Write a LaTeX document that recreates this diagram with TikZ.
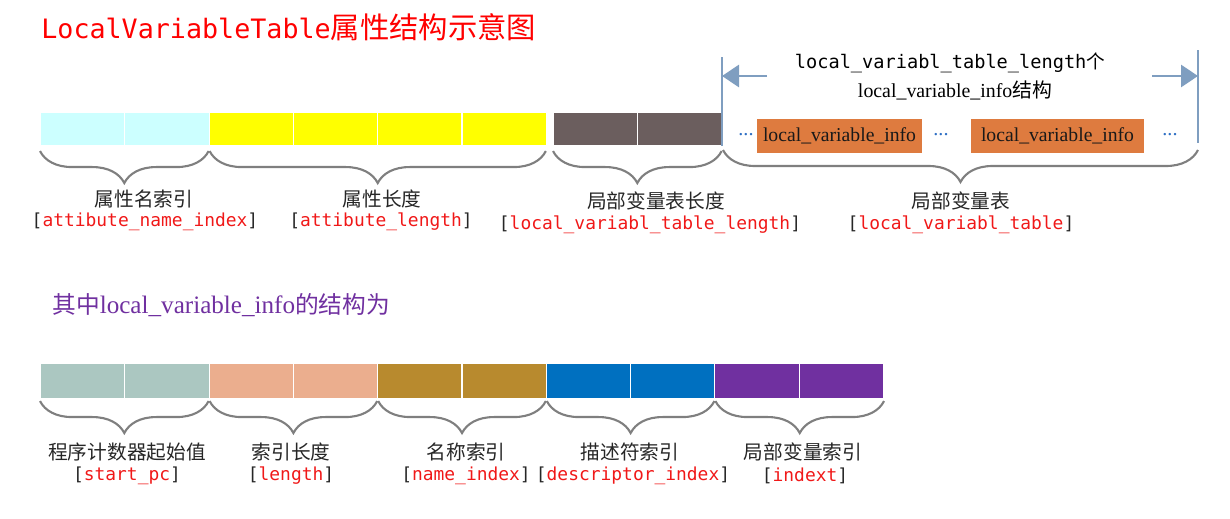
\documentclass[tikz,border=0pt]{standalone}
\usepackage{fontspec}
\setmainfont{Liberation Serif}
\setmonofont{DejaVu Sans Mono}
\newfontfamily\cjk{Noto Sans CJK SC}
\usepackage{xcolor}
\usepackage{tikz}
\usetikzlibrary{arrows.meta,decorations.pathreplacing,calc}
\definecolor{titlered}{HTML}{FF0000}
\definecolor{fieldred}{HTML}{F01818}
\definecolor{subpurple}{HTML}{7030A0}
\definecolor{namecyan}{HTML}{CCFFFF}
\definecolor{lenyellow}{HTML}{FFFF00}
\definecolor{tabgray}{HTML}{6B5E5E}
\definecolor{infoorange}{HTML}{DE7B3F}
\definecolor{pcteal}{HTML}{ABC7C1}
\definecolor{lensalmon}{HTML}{EBAE8E}
\definecolor{idxgold}{HTML}{B88A2E}
\definecolor{descblue}{HTML}{0070C0}
\definecolor{slotpurple}{HTML}{7030A0}
\definecolor{spanblue}{HTML}{7F9EC0}
\definecolor{dotblue}{HTML}{2E6FC4}
\definecolor{bracegray}{HTML}{7F7F7F}
\newcommand{\fieldname}[1]{[{\color{fieldred}#1}]}

\begin{document}
\begin{tikzpicture}[x=0.02cm, y=-0.02cm,
  cell/.style={draw=white, line width=0.6pt, minimum width=1.686cm,
    minimum height=0.66cm, inner sep=0pt, anchor=north west},
  lowcell/.style={cell, minimum height=0.70cm},
  brc/.style={decorate, decoration={brace, mirror, amplitude=0.64cm},
    draw=bracegray, line width=1.2pt},
  cn/.style={font=\cjk\fontsize{11.2}{13}\selectfont, text=black!85, inner sep=0pt},
  fld/.style={font=\ttfamily\fontsize{10.2}{12}\selectfont, text=black!85, inner sep=0pt},
  info/.style={fill=infoorange, minimum height=0.68cm, inner sep=0pt,
    font=\fontsize{11.2}{13}\selectfont, text=black!90},
  dots/.style={text=dotblue, font=\fontsize{11.5}{12}\selectfont, inner sep=0pt},
  span/.style={draw=spanblue, line width=1.3pt},
  spanarr/.style={-{Triangle[length=0.34cm, width=0.44cm]}, draw=spanblue, line width=1.7pt}
]
  \useasboundingbox (0,0) rectangle (1230,518);

  % title
  \node[anchor=west, text=titlered, inner sep=0pt] (title) at (41,27)
    {{\ttfamily\fontsize{15.2}{18}\selectfont LocalVariableTable}{\cjk\fontsize{16.7}{18}\selectfont 属性结构示意图}};

  % top row of bytes
  \foreach \nm/\x/\c in {n1/40/namecyan, n2/124.3/namecyan,
      l1/208.6/lenyellow, l2/292.9/lenyellow, l3/377.2/lenyellow, l4/461.5/lenyellow,
      t1/553/tabgray, t2/637.3/tabgray}
    \node[cell, fill=\c] (\nm) at (\x,112) {};

  % span of the table
  \coordinate (ltop) at (722,57);
  \coordinate (lbot) at (722,146);
  \coordinate (rtop) at (1198,50);
  \coordinate (rbot) at (1198,143);
  \coordinate (ltail) at (767,76);
  \coordinate (lhead) at (722,76);
  \coordinate (rtail) at (1152,76);
  \coordinate (rhead) at (1198,76);
  \draw[span] (ltop) -- (lbot);
  \draw[span] (rtop) -- (rbot);
  \draw[spanarr] (ltail) -- (lhead);
  \draw[spanarr] (rtail) -- (rhead);
  \node[font=\ttfamily\fontsize{10.6}{12}\selectfont, inner sep=0pt] (cnt) at (950,63)
    {local\_variabl\_table\_length{\cjk 个}};
  \node[font=\fontsize{11.3}{13}\selectfont, inner sep=0pt] (cntof) at (955,90)
    {local\_variable\_info{\cjk 结构}};

  \node[dots] (d1) at (746,135) {...};
  \node[info, minimum width=3.30cm] (info1) at (839.5,136) {local\_variable\_info};
  \node[dots] (d2) at (941,135) {...};
  \node[info, minimum width=3.46cm] (info2) at (1057.5,136) {local\_variable\_info};
  \node[dots] (d3) at (1170,135) {...};

  % braces, top row
  \draw[brc] ($(n1.south west)+(0,5)$) -- ($(n2.south east)+(-1,5)$);
  \draw[brc] ($(l1.south west)+(1,5)$) -- ($(l4.south east)+(-1,5)$);
  \draw[brc] ($(t1.south west)+(0,5)$) -- ($(t2.south east)+(-1,5)$);
  \draw[brc] ($(lbot)+(1,4)$) -- ($(rbot)+(0,7)$);

  \node[cn] (nlab) at (144,199) {属性名索引};
  \node[fld] (nfld) at (145,222) {\fieldname{attibute\_name\_index}};
  \node[cn] (llab) at (382,199) {属性长度};
  \node[fld] (lfld) at (381,222) {\fieldname{attibute\_length}};
  \node[cn] (tlab) at (656,201) {局部变量表长度};
  \node[fld] (tfld) at (650,225) {\fieldname{local\_variabl\_table\_length}};
  \node[cn] (vlab) at (961,201) {局部变量表};
  \node[fld] (vfld) at (961,225) {\fieldname{local\_variabl\_table}};

  % layout of one local_variable_info
  \node[anchor=west, text=subpurple, inner sep=0pt] (sub) at (52,305)
    {{\cjk\fontsize{13.5}{16}\selectfont 其中}{\fontsize{14.3}{16}\selectfont local\_variable\_info}{\cjk\fontsize{13.5}{16}\selectfont 的结构为}};

  \foreach \nm/\x/\c in {p1/40/pcteal, p2/124.3/pcteal,
      g1/208.6/lensalmon, g2/292.9/lensalmon,
      m1/377.2/idxgold, m2/461.5/idxgold,
      s1/545.8/descblue, s2/630.1/descblue,
      i1/714.4/slotpurple, i2/798.7/slotpurple}
    \node[lowcell, fill=\c] (\nm) at (\x,363) {};

  \draw[brc] ($(p1.south west)+(0,2)$) -- ($(p2.south east)+(-1,2)$);
  \draw[brc] ($(g1.south west)+(1,2)$) -- ($(g2.south east)+(-1,2)$);
  \draw[brc] ($(m1.south west)+(1,2)$) -- ($(m2.south east)+(-1,2)$);
  \draw[brc] ($(s1.south west)+(1,2)$) -- ($(s2.south east)+(-1,2)$);
  \draw[brc] ($(i1.south west)+(1,2)$) -- ($(i2.south east)+(0,2)$);

  \node[cn] (plab) at (127,452) {程序计数器起始值};
  \node[fld] (pfld) at (127,476) {\fieldname{start\_pc}};
  \node[cn] (glab) at (291,452) {索引长度};
  \node[fld] (gfld) at (291,476) {\fieldname{length}};
  \node[cn] (mlab) at (466,452) {名称索引};
  \node[fld] (mfld) at (466,476) {\fieldname{name\_index}};
  \node[cn] (slab) at (630,452) {描述符索引};
  \node[fld] (sfld) at (633,476) {\fieldname{descriptor\_index}};
  \node[cn] (ilab) at (803,452) {局部变量索引};
  \node[fld] (ifld) at (805,476) {\fieldname{indext}};
\end{tikzpicture}
\end{document}
